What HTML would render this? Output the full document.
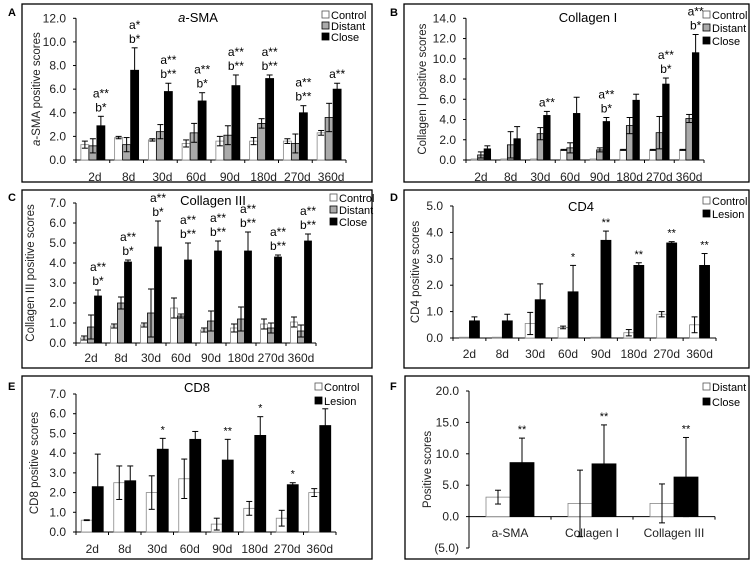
<!DOCTYPE html>
<html><head><meta charset="utf-8"><style>
html,body{margin:0;padding:0;background:#fff}
svg{display:block;font-family:"Liberation Sans",Arial,sans-serif}
</style></head><body>
<svg id="fig" width="756" height="564" viewBox="0 0 756 564"></svg>
<script>
const days = ["2d","8d","30d","60d","90d","180d","270d","360d"];
// Panel A a-SMA
const aControl = [1.3,1.9,1.7,1.4,1.6,1.6,1.6,2.3];
const aControlErr = [0.3,0.1,0.1,0.3,0.4,0.3,0.2,0.2];
const aDistant = [1.2,1.3,2.4,2.3,2.1,3.1,1.4,3.6];
const aDistantErr = [0.6,0.6,0.6,0.8,0.8,0.4,0.8,1.2];
const aClose = [2.9,7.6,5.8,5.0,6.3,6.9,4.0,6.0];
const aCloseErr = [0.8,1.9,0.7,0.7,0.9,0.3,0.6,0.5];
const aNoteA = ["a**","a*","a**","a**","a**","a**","a**","a**"];
const aNoteB = ["b*","b*","b**","b*","b**","b**","b**",""];
const aTicks = ["0.0","2.0","4.0","6.0","8.0","10.0","12.0"];
// Panel B Collagen I
const bControl = [0.1,0.1,0.1,1.0,0.1,1.0,1.0,1.0];
const bControlErr = [0,0,0,0.05,0,0.05,0.05,0.05];
const bDistant = [0.5,1.5,2.6,1.2,1.0,3.4,2.7,4.1];
const bDistantErr = [0.3,1.3,0.6,0.5,0.2,0.8,1.6,0.4];
const bClose = [1.1,2.1,4.4,4.6,3.8,5.9,7.5,10.6];
const bCloseErr = [0.3,1.2,0.4,1.6,0.4,0.6,0.6,1.8];
const bNoteA = ["","","a**","","a**","","a**","a**"];
const bNoteB = ["","","","","b*","","b*","b*"];
const bTicks = ["0.0","2.0","4.0","6.0","8.0","10.0","12.0","14.0"];
// Panel C Collagen III
const cControl = [0.25,0.85,0.9,1.75,0.65,0.75,0.95,1.05];
const cControlErr = [0.1,0.1,0.1,0.5,0.1,0.2,0.25,0.25];
const cDistant = [0.8,2.0,1.5,1.35,1.1,1.2,0.75,0.6];
const cDistantErr = [0.6,0.3,1.2,0.1,0.5,0.6,0.25,0.3];
const cClose = [2.35,4.05,4.8,4.15,4.6,4.6,4.3,5.1];
const cCloseErr = [0.3,0.1,1.3,0.85,0.5,0.95,0.1,0.35];
const cNoteA = ["a**","a**","a**","a**","a**","a**","a**","a**"];
const cNoteB = ["b*","b*","b*","b**","b**","b**","b**","b**"];
const cTicks = ["0.0","1.0","2.0","3.0","4.0","5.0","6.0","7.0"];
// Panel D CD4
const dControl = [0.03,0.03,0.55,0.4,0.03,0.2,0.9,0.5];
const dControlErr = [0,0,0.42,0.05,0,0.12,0.1,0.3];
const dLesion = [0.65,0.65,1.45,1.75,3.7,2.75,3.6,2.75];
const dLesionErr = [0.15,0.25,0.6,1.0,0.35,0.1,0.05,0.45];
const dStars = ["","","","*","**","**","**","**"];
const dTicks = ["0.0","1.0","2.0","3.0","4.0","5.0"];
// Panel E CD8
const eControl = [0.6,2.5,2.0,2.7,0.4,1.2,0.7,2.0];
const eControlErr = [0.02,0.85,0.85,1.0,0.3,0.35,0.4,0.2];
const eLesion = [2.3,2.6,4.2,4.7,3.65,4.9,2.4,5.4];
const eLesionErr = [1.65,0.75,0.55,0.4,1.05,0.95,0.1,0.85];
const eStars = ["","","*","","**","*","*",""];
const eTicks = ["0.0","1.0","2.0","3.0","4.0","5.0","6.0","7.0"];
// Panel F summary
const fCats = ["a-SMA","Collagen I","Collagen III"];
const fDistant = [3.1,2.1,2.1];
const fDistantErr = [1.1,5.3,3.1];
const fClose = [8.6,8.4,6.3];
const fCloseErr = [3.9,6.2,6.3];
const fStars = ["**","**","**"];
const fTickVals = [-5,0,5,10,15,20];
const fTicks = ["(5.0)","0.0","5.0","10.0","15.0","20.0"];

const NS="http://www.w3.org/2000/svg";
const svg=document.getElementById('fig');
function mk(tag,attrs,parent,text){const e=document.createElementNS(NS,tag);for(const k in attrs)e.setAttribute(k,attrs[k]);if(text!==undefined)e.textContent=text;(parent||svg).appendChild(e);return e;}
const FILLS={white:"#fff",gray:"#aaa",black:"#000"};

function panel(cfg){
  const g=mk('g',{});
  
  
  const box=mk('rect',{x:cfg.box[0],y:cfg.box[1],width:cfg.box[2],height:cfg.box[3],fill:'none',stroke:'#000','stroke-width':1.3},g);
  
  const lab=mk('text',{x:cfg.label[0],y:cfg.label[1],'font-size':11,'font-weight':'bold'},g,cfg.letter);
  
  const y=v=>cfg.y0-(v-cfg.ymin)*(cfg.y0-cfg.y1)/(cfg.ymax-cfg.ymin);
  const n=cfg.cats.length, bw=cfg.x1-cfg.x0, step=bw/n;
  const xc=i=>cfg.x0+step*(i+0.5);
  mk('line',{x1:cfg.x0,y1:y(cfg.ymax),x2:cfg.x0,y2:y(cfg.ymin),stroke:'#000','stroke-width':1},g);
  cfg.tickVals.forEach((v,i)=>{
    mk('line',{x1:cfg.x0-3,y1:y(v),x2:cfg.x0,y2:y(v),stroke:'#000'},g);
    const t=mk('text',{x:cfg.x0-10,y:y(v)+4,'font-size':12,'text-anchor':'end',fill:'#222'},g,cfg.tickLabels[i]);
    
  });
  const ax=y(cfg.axisAt||0);
  mk('line',{x1:cfg.x0,y1:ax,x2:cfg.x1,y2:ax,stroke:'#000'},g);
  for(let i=0;i<=n;i++) mk('line',{x1:cfg.x0+step*i,y1:ax,x2:cfg.x0+step*i,y2:ax+3,stroke:'#000'},g);
  cfg.cats.forEach((c,i)=>{
    const t=mk('text',{x:xc(i)+(cfg.catDx||0),y:cfg.catY,'font-size':12,'text-anchor':'middle',fill:'#222'},g,c);
    
  });
  const yt=mk('text',{transform:`translate(${cfg.ytitleX},${(y(cfg.ymax)+y(cfg.ymin))/2}) rotate(-90)`,'font-size':11.5,'text-anchor':'middle',fill:'#222'},g);
  
  if(cfg.ytitleItalic){mk('tspan',{'font-style':'italic'},yt,'a');mk('tspan',{},yt,cfg.ytitle);} else yt.textContent=cfg.ytitle;
  const tt=mk('text',{x:cfg.title[0],y:cfg.title[1],'font-size':13,'text-anchor':'middle'},g);
  
  if(cfg.titleItalic){mk('tspan',{'font-style':'italic'},tt,'a');mk('tspan',{},tt,cfg.titleText);} else tt.textContent=cfg.titleText;
  const ns=cfg.series.length, w=cfg.barW, gw=w*ns;
  const tops=cfg.cats.map(()=>0);
  cfg.series.forEach((s,si)=>{
    s.vals.forEach((v,i)=>{
      const bx=xc(i)-gw/2+si*w;
      const r=mk('rect',{x:bx,y:Math.min(y(v),ax),width:w,height:Math.abs(y(v)-ax),fill:FILLS[s.color],stroke:s.color==='white'?'#888':'#000','stroke-width':0.8},g);
      
      
      const e=s.err[i], cx=bx+w/2;
      if(e>0){
        mk('line',{x1:cx,y1:y(v+e),x2:cx,y2:y(v-e),stroke:'#000','stroke-width':1},g);
        mk('line',{x1:cx-3,y1:y(v+e),x2:cx+3,y2:y(v+e),stroke:'#000'},g);
        mk('line',{x1:cx-3,y1:y(v-e),x2:cx+3,y2:y(v-e),stroke:'#000'},g);
      }
      tops[i]=Math.max(tops[i],v+e);
    });
  });
  if(cfg.noteA){
    cfg.cats.forEach((c,i)=>{
      const cx=xc(i)+gw/2-w/2;let by=y(tops[i])-5;
      if(cfg.noteB[i]){const t=mk('text',{x:cx,y:by,'font-size':12,'text-anchor':'middle'},g,cfg.noteB[i]);by-=14;}
      if(cfg.noteA[i]){const t=mk('text',{x:cx,y:by,'font-size':12,'text-anchor':'middle'},g,cfg.noteA[i]);}
    });
  }
  if(cfg.stars){
    cfg.cats.forEach((c,i)=>{
      if(!cfg.stars[i])return;
      const cx=xc(i)+gw/2-w/2;
      const t=mk('text',{x:cx,y:y(tops[i])-5,'font-size':11,'text-anchor':'middle'},g,cfg.stars[i]);
      
    });
  }
  cfg.series.forEach((s,si)=>{
    const ly=cfg.legend[1]+si*cfg.legend[2];
    const lg=mk('g',{},g);
    
    mk('rect',{x:cfg.legend[0],y:ly-8,width:7,height:7,fill:FILLS[s.color],stroke:s.color==='white'?'#555':'#000','stroke-width':0.8},lg);
    mk('text',{x:cfg.legend[0]+9,y:ly,'font-size':11},lg,s.label);
  });
}

panel({name:'panel-a-sma',letter:'A',label:[8,16],box:[22,4,350,178],x0:76,x1:346,y0:160,y1:18.3,ymin:0,ymax:12,
  tickVals:[0,2,4,6,8,10,12],tickLabels:aTicks,cats:days,catY:181,catDx:2,ytitle:'-SMA positive scores',ytitleItalic:true,ytitleX:40,
  title:[198,22],titleText:'-SMA',titleItalic:true,barW:8,legend:[322,19,11],
  series:[{key:'control',label:'Control',color:'white',vals:aControl,err:aControlErr},
          {key:'distant',label:'Distant',color:'gray',vals:aDistant,err:aDistantErr},
          {key:'close',label:'Close',color:'black',vals:aClose,err:aCloseErr}],noteA:aNoteA,noteB:aNoteB});
panel({name:'panel-collagen-i',letter:'B',label:[390,16],box:[404,4,345,178],x0:466,x1:704,y0:160,y1:18.3,ymin:0,ymax:14,
  tickVals:[0,2,4,6,8,10,12,14],tickLabels:bTicks,cats:days,catY:181,ytitle:'Collagen I positive scores',ytitleX:426,
  title:[588,22],titleText:'Collagen I',barW:6.5,legend:[703,19,13],
  series:[{key:'control',label:'Control',color:'white',vals:bControl,err:bControlErr},
          {key:'distant',label:'Distant',color:'gray',vals:bDistant,err:bDistantErr},
          {key:'close',label:'Close',color:'black',vals:bClose,err:bCloseErr}],noteA:bNoteA,noteB:bNoteB});
panel({name:'panel-collagen-iii',letter:'C',label:[8,201],box:[22,190,350,178],x0:76,x1:316,y0:343,y1:203,ymin:0,ymax:7,
  tickVals:[0,1,2,3,4,5,6,7],tickLabels:cTicks,cats:days,catY:362,ytitle:'Collagen III  positive scores',ytitleX:34,
  title:[213,205],titleText:'Collagen III',barW:7,legend:[330,202,12],
  series:[{key:'control',label:'Control',color:'white',vals:cControl,err:cControlErr},
          {key:'distant',label:'Distant',color:'gray',vals:cDistant,err:cDistantErr},
          {key:'close',label:'Close',color:'black',vals:cClose,err:cCloseErr}],noteA:cNoteA,noteB:cNoteB});
panel({name:'panel-cd4',letter:'D',label:[390,201],box:[404,190,345,178],x0:453,x1:716,y0:338,y1:206,ymin:0,ymax:5,
  tickVals:[0,1,2,3,4,5],tickLabels:dTicks,cats:days,catY:358,ytitle:'CD4 positive scores',ytitleX:419,
  title:[581,211],titleText:'CD4',barW:10,legend:[703,205,13],
  series:[{key:'control',label:'Control',color:'white',vals:dControl,err:dControlErr},
          {key:'lesion',label:'Lesion',color:'black',vals:dLesion,err:dLesionErr}],stars:dStars});
panel({name:'panel-cd8',letter:'E',label:[8,390],box:[22,376,350,183],x0:76,x1:336,y0:532,y1:394,ymin:0,ymax:7,
  tickVals:[0,1,2,3,4,5,6,7],tickLabels:eTicks,cats:days,catY:553,ytitle:'CD8 positive scores',ytitleX:38,
  title:[197,392],titleText:'CD8',barW:11,legend:[315,391,14],
  series:[{key:'control',label:'Control',color:'white',vals:eControl,err:eControlErr},
          {key:'lesion',label:'Lesion',color:'black',vals:eLesion,err:eLesionErr}],stars:eStars});
panel({name:'panel-summary',letter:'F',label:[390,390],box:[405,376,344,183],x0:469,x1:715,y0:548,y1:391,ymin:-5,ymax:20,axisAt:0,
  tickVals:fTickVals,tickLabels:fTicks,cats:fCats,catY:537,ytitle:'Positive scores',ytitleX:431,
  title:[0,0],titleText:'',barW:24,legend:[703,391,15],
  series:[{key:'distant',label:'Distant',color:'white',vals:fDistant,err:fDistantErr},
          {key:'close',label:'Close',color:'black',vals:fClose,err:fCloseErr}],stars:fStars});
</script>
</body></html>
